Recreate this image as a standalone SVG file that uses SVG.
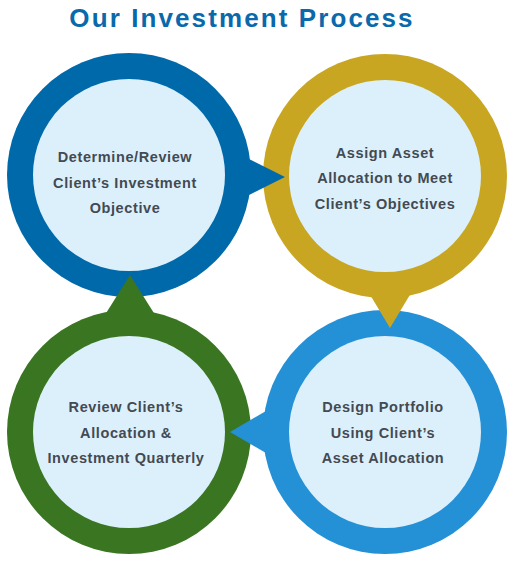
<svg xmlns="http://www.w3.org/2000/svg" width="515" height="565" viewBox="0 0 515 565">
<style>
.title{font-family:"Liberation Sans",Arial,sans-serif;font-weight:bold;font-size:26px;letter-spacing:2.1px;fill:#0a69ab}
.lbl{font-family:"Liberation Sans",Arial,sans-serif;font-weight:bold;font-size:14.5px;letter-spacing:0.6px;fill:#434a52;text-anchor:middle}
.inner{fill:#dcf0fc}
</style>
<rect width="515" height="565" fill="#ffffff"/>
<text class="title" x="242" y="27" text-anchor="middle">Our Investment Process</text>
<g id="node-determine">
<circle cx="129" cy="175" r="122" fill="#0069aa"/>
<circle class="inner" cx="129" cy="175" r="96"/>
<text class="lbl" x="125" y="162">Determine/Review</text>
<text class="lbl" x="125" y="188">Client’s Investment</text>
<text class="lbl" x="125" y="213">Objective</text>
</g>
<g id="node-assign">
<circle cx="385" cy="176" r="122" fill="#c8a622"/>
<circle class="inner" cx="385" cy="176" r="96"/>
<text class="lbl" x="385" y="158">Assign Asset</text>
<text class="lbl" x="385" y="183">Allocation to Meet</text>
<text class="lbl" x="385" y="209">Client’s Objectives</text>
</g>
<g id="node-design">
<circle cx="385" cy="432" r="122" fill="#2490d6"/>
<circle class="inner" cx="385" cy="432" r="96"/>
<text class="lbl" x="383" y="412">Design Portfolio</text>
<text class="lbl" x="383" y="438">Using Client’s</text>
<text class="lbl" x="383" y="463">Asset Allocation</text>
</g>
<g id="node-review">
<circle cx="129" cy="432" r="122" fill="#3a7522"/>
<circle class="inner" cx="129" cy="432" r="96"/>
<text class="lbl" x="126" y="412">Review Client’s</text>
<text class="lbl" x="126" y="438">Allocation &amp;</text>
<text class="lbl" x="126" y="463">Investment Quarterly</text>
</g>
<g id="connectors">
<polygon points="238,153.5 285,177 238,200.5" fill="#0069aa"/>
<polygon points="366,288 390,328 414,288" fill="#c8a622"/>
<polygon points="278,404 230,432 278,460" fill="#2490d6"/>
<polygon points="103,318 130,275 157,318" fill="#3a7522"/>
</g>
</svg>
